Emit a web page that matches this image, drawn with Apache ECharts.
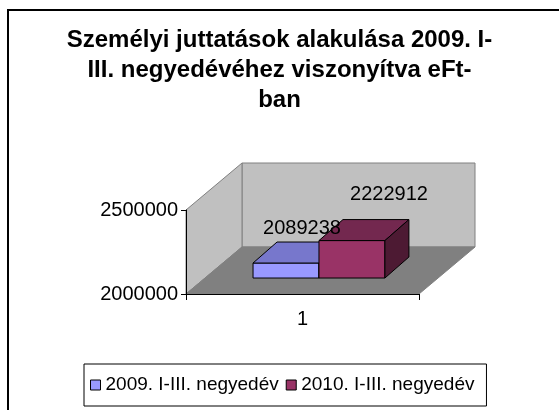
<!DOCTYPE html>
<html>
<head>
<meta charset="utf-8">
<script src="https://cdn.jsdelivr.net/npm/echarts@6/dist/echarts.min.js"></script>
<style>
html,body{margin:0;padding:0;background:#fff;}
#chart{width:559px;height:410px;}
</style>
</head>
<body>
<div id="chart"></div>
<script>
// ---- data ----
const categories = ['1'];
const seriesNames = ['2009. I-III. negyedév', '2010. I-III. negyedév'];
const values2009 = [2089238];
const values2010 = [2222912];
const yMin = 2000000;
const yMax = 2500000;
const yInterval = 500000;
const titleText = 'Személyi juttatások alakulása 2009. I-\nIII. negyedévéhez viszonyítva eFt-\nban';

// ---- styling constants ----
const FONT = "'Liberation Sans', Arial, sans-serif";
const DEPTH = [56, -47];          // wall depth offset (px)
const BAR_FRONT = 0.34;           // bar front position in depth fraction
const BAR_DEPTH = [24, -21];      // bar depth offset (px)
const BAR_START = 0.206;          // first bar start within band
const BAR_W = 0.283;              // bar width fraction of band
const COLORS = [
  {front: '#9999FF', top: '#7777CC', side: '#5C5C99'},
  {front: '#993366', top: '#73284F', side: '#4D1A33'}
];
const LABEL_OFF = [[16, -35], [37, -46]];

function wallRender(params, api) {
  const cs = params.coordSys;
  const x0 = cs.x, y0 = cs.y, w = cs.width, h = cs.height;
  const dx = DEPTH[0], dy = DEPTH[1];
  const st = (fill) => ({fill: fill, stroke: '#808080', lineWidth: 1});
  return {
    type: 'group',
    children: [
      {type: 'polygon', shape: {points: [[x0 + dx, y0 + dy], [x0 + w + dx, y0 + dy], [x0 + w + dx, y0 + h + dy], [x0 + dx, y0 + h + dy]]}, style: st('#C0C0C0')},
      {type: 'polygon', shape: {points: [[x0, y0], [x0 + dx, y0 + dy], [x0 + dx, y0 + h + dy], [x0, y0 + h]]}, style: st('#C0C0C0')},
      {type: 'polygon', shape: {points: [[x0, y0 + h], [x0 + w, y0 + h], [x0 + w + dx, y0 + h + dy], [x0 + dx, y0 + h + dy]]}, style: st('#808080')}
    ]
  };
}

function makeBarRender(idx) {
  return function (params, api) {
    const cat = api.value(0);
    const v = api.value(1);
    const base = api.coord([cat, yMin]);
    const top = api.coord([cat, v]);
    const band = api.size([1, 0])[0];
    const fx = DEPTH[0] * BAR_FRONT, fy = DEPTH[1] * BAR_FRONT;
    const left = base[0] - band / 2 + fx + band * (BAR_START + idx * BAR_W);
    const w = band * BAR_W;
    const bottom = base[1] + fy;
    const t = top[1] + fy;
    const bx = BAR_DEPTH[0], by = BAR_DEPTH[1];
    const c = COLORS[idx];
    const line = {stroke: '#000', lineWidth: 1};
    return {
      type: 'group',
      children: [
        {type: 'polygon', shape: {points: [[left, t], [left + w, t], [left + w, bottom], [left, bottom]]}, style: Object.assign({fill: c.front}, line)},
        {type: 'polygon', shape: {points: [[left, t], [left + w, t], [left + w + bx, t + by], [left + bx, t + by]]}, style: Object.assign({fill: c.top}, line)},
        {type: 'polygon', shape: {points: [[left + w, t], [left + w + bx, t + by], [left + w + bx, bottom + by], [left + w, bottom]]}, style: Object.assign({fill: c.side}, line)},
        {type: 'text', z2: 100, x: left + w / 2 + LABEL_OFF[idx][0], y: t + LABEL_OFF[idx][1],
         style: {text: String(v), fill: '#000', fontSize: 20, fontFamily: FONT, align: 'center', verticalAlign: 'middle'}}
      ]
    };
  };
}

const chart = echarts.init(document.getElementById('chart'), null, {renderer: 'canvas'});
const allValues = [values2009, values2010];

chart.setOption({
  backgroundColor: '#fff',
  animation: false,
  title: {
    text: titleText,
    left: 'center',
    top: 20,
    textStyle: {fontSize: 24, fontWeight: 'bold', fontFamily: FONT, lineHeight: 30, color: '#000'}
  },
  graphic: [
    {type: 'rect', z: 100, silent: true, shape: {x: 8, y: 10, width: 700, height: 600}, style: {fill: 'none', stroke: '#000', lineWidth: 2}}
  ],
  legend: {
    left: 84,
    top: 364,
    orient: 'horizontal',
    data: seriesNames,
    icon: 'rect',
    itemWidth: 10,
    itemHeight: 10,
    itemGap: 7,
    padding: [10, 12, 10, 6],
    borderColor: '#000',
    borderWidth: 1,
    itemStyle: {borderColor: '#000', borderWidth: 1},
    textStyle: {fontSize: 19, fontFamily: FONT, color: '#000', lineHeight: 22}
  },
  grid: {left: 186, width: 233, top: 210, height: 84, containLabel: false, outerBoundsMode: 'none'},
  xAxis: {
    type: 'category',
    data: categories,
    z: 5,
    axisLine: {lineStyle: {color: '#000', width: 1}},
    axisTick: {show: true, length: 6, lineStyle: {color: '#000'}},
    axisLabel: {fontSize: 20, fontFamily: FONT, color: '#000', margin: 15},
    splitLine: {show: false}
  },
  yAxis: {
    type: 'value',
    min: yMin,
    max: yMax,
    interval: yInterval,
    z: 5,
    axisLine: {show: true, lineStyle: {color: '#000', width: 1}},
    axisTick: {show: true, length: 5, lineStyle: {color: '#000'}},
    axisLabel: {fontSize: 20, fontFamily: FONT, color: '#000', margin: 8, formatter: (val) => String(val)},
    splitLine: {show: false}
  },
  series: [
    {
      type: 'custom',
      name: '_walls',
      silent: true,
      z: 1,
      renderItem: wallRender,
      data: [[0, yMin]],
      encode: {x: 0, y: 1}
    }
  ].concat(seriesNames.map((name, i) => ({
    type: 'custom',
    name: name,
    z: 2,
    itemStyle: {color: COLORS[i].front, borderColor: '#000', borderWidth: 1},
    renderItem: makeBarRender(i),
    data: categories.map((c, k) => [k, allValues[i][k]]),
    encode: {x: 0, y: 1}
  })))
});
</script>
</body>
</html>
